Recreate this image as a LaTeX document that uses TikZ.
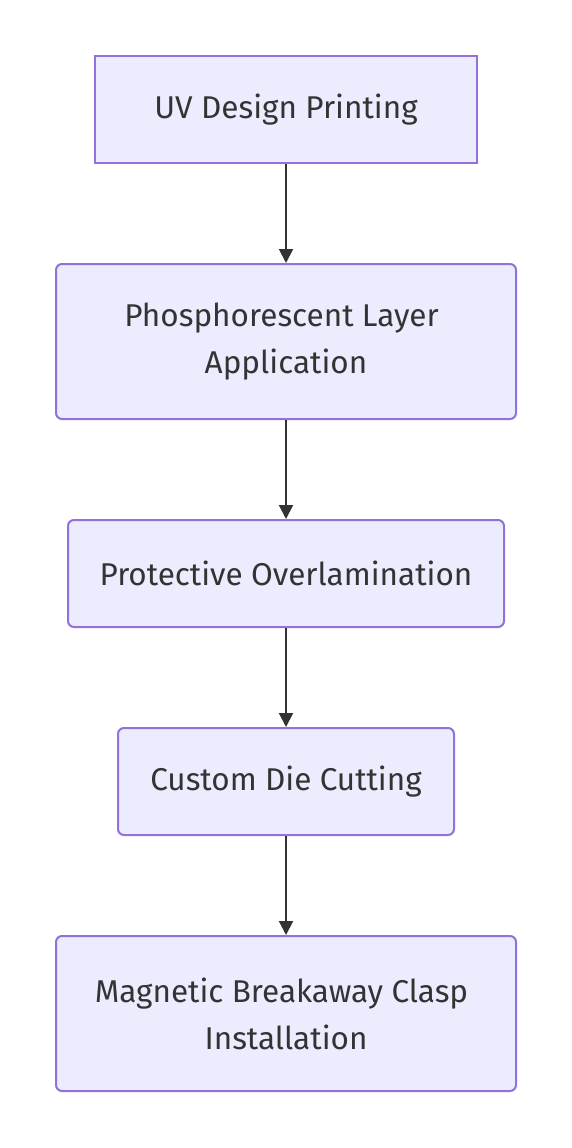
\documentclass[tikz,border=0pt]{standalone}
\usepackage{fontspec}
\setmainfont{Fira Sans}
\usepackage{tikz}
\usetikzlibrary{arrows.meta,shapes}
\definecolor{boxfill}{HTML}{ECECFF}
\definecolor{boxline}{HTML}{9370DB}
\definecolor{ink}{HTML}{333333}

\begin{document}
\begin{tikzpicture}[x=1pt,y=-1pt,
    stage/.style={rectangle,draw=boxline,fill=boxfill,line width=2pt,
      rounded corners=6pt,inner sep=0pt,align=center,text=ink,
      font=\fontsize{31.5}{47}\selectfont},
    flow/.style={draw=ink,line width=2pt,-{Triangle[width=14pt,length=14pt]}}]
  \useasboundingbox (0,0) rectangle (572,1148);
  \node at (286,109.5) (uv) [stage,sharp corners,minimum width=382pt,minimum height=107pt] {UV Design Printing};
  \node at (286,341.5) (phos) [stage,minimum width=460pt,minimum height=155pt] {Phosphorescent Layer\hspace*{9pt}\\Application};
  \node at (286,573.5) (lam) [stage,minimum width=436pt,minimum height=107pt] {Protective Overlamination};
  \node at (286,781.5) (die) [stage,minimum width=336pt,minimum height=107pt] {Custom Die Cutting};
  \node at (286,1013.5) (clasp) [stage,minimum width=460pt,minimum height=155pt] {Magnetic Breakaway Clasp\hspace*{9pt}\\Installation};
  \path[flow]
        (uv) edge[flow] (phos)
        (phos) edge[flow] (lam)
        (lam) edge[flow] (die)
        (die) edge[flow] (clasp)
        ;
\end{tikzpicture}
\end{document}
